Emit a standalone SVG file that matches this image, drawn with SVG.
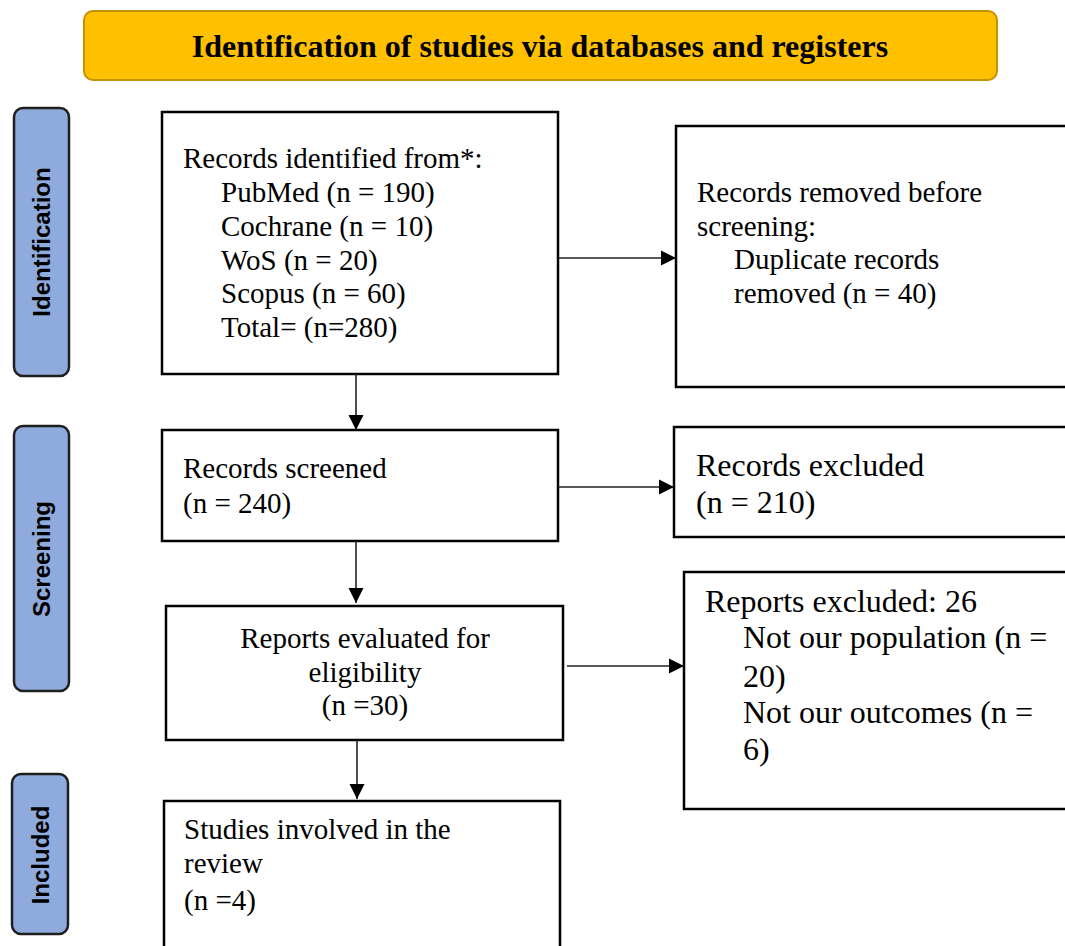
<svg xmlns="http://www.w3.org/2000/svg" width="1065" height="946" viewBox="0 0 1065 946">
<style>
.box{fill:#fff;stroke:#000;stroke-width:2.5}
.side{fill:#8FAADC;stroke:#1f1f1f;stroke-width:2.5}
.t{font-family:"Liberation Serif","Times New Roman",serif;font-size:29px;fill:#000}
.tb{font-family:"Liberation Serif","Times New Roman",serif;font-size:32px;fill:#000}
.s{font-family:"Liberation Sans",Arial,sans-serif;font-size:24px;font-weight:bold;fill:#000;text-anchor:middle}
.c{fill:none;stroke:#222;stroke-width:1.6}
</style>
<defs>
<marker id="ah" markerUnits="userSpaceOnUse" markerWidth="16" markerHeight="16" refX="15" refY="8" orient="auto">
<path d="M0,0.5 L15,8 L0,15.5 Z" fill="#000"/>
</marker>
</defs>
<g id="header">
<rect x="84" y="11" width="913" height="69" rx="9" fill="#FFC000" stroke="#C49200" stroke-width="2"/>
<text x="540" y="57" text-anchor="middle" style="font-family:'Liberation Serif','Times New Roman',serif;font-size:32px;font-weight:bold">Identification of studies via databases and registers</text>
</g>
<g id="label-identification">
<rect class="side" x="14" y="108" width="55" height="268" rx="9"/>
<text class="s" transform="translate(50,242) rotate(-90)">Identification</text>
</g>
<g id="label-screening">
<rect class="side" x="14" y="426" width="55" height="265" rx="9"/>
<text class="s" transform="translate(50,559) rotate(-90)">Screening</text>
</g>
<g id="label-included">
<rect class="side" x="12" y="774" width="56" height="160" rx="9"/>
<text class="s" transform="translate(49,855) rotate(-90)">Included</text>
</g>
<g id="records-identified">
<rect class="box" x="162" y="112" width="396" height="262"/>
<text class="t" x="183" y="168">Records identified from*:</text>
<text class="t" x="221" y="202">PubMed (n = 190)</text>
<text class="t" x="221" y="236">Cochrane (n = 10)</text>
<text class="t" x="221" y="270">WoS (n = 20)</text>
<text class="t" x="221" y="303">Scopus (n = 60)</text>
<text class="t" x="221" y="337">Total= (n=280)</text>
</g>
<g id="records-removed">
<rect class="box" x="676" y="126" width="400" height="261"/>
<text class="t" x="697" y="202">Records removed before</text>
<text class="t" x="697" y="236">screening:</text>
<text class="t" x="734" y="269">Duplicate records</text>
<text class="t" x="734" y="303">removed (n = 40)</text>
</g>
<g id="records-screened">
<rect class="box" x="162" y="430" width="396" height="111"/>
<text class="t" x="183" y="478">Records screened</text>
<text class="t" x="183" y="513">(n = 240)</text>
</g>
<g id="records-excluded">
<rect class="box" x="674" y="427" width="400" height="110"/>
<text class="tb" x="696" y="476">Records excluded</text>
<text class="tb" x="696" y="513">(n = 210)</text>
</g>
<g id="reports-evaluated">
<rect class="box" x="166" y="606" width="397" height="134"/>
<text class="t" x="365" y="648" text-anchor="middle">Reports evaluated for</text>
<text class="t" x="365" y="682" text-anchor="middle">eligibility</text>
<text class="t" x="365" y="715" text-anchor="middle">(n =30)</text>
</g>
<g id="reports-excluded">
<rect class="box" x="684" y="572" width="400" height="237"/>
<text class="tb" x="705" y="612">Reports excluded: 26</text>
<text class="tb" x="743" y="648">Not our population (n =</text>
<text class="tb" x="743" y="687">20)</text>
<text class="tb" x="743" y="723">Not our outcomes (n =</text>
<text class="tb" x="743" y="760">6)</text>
</g>
<g id="studies-included">
<rect class="box" x="164" y="801" width="396" height="160"/>
<text class="t" x="184" y="839">Studies involved in the</text>
<text class="t" x="184" y="873">review</text>
<text class="t" x="184" y="910">(n =4)</text>
</g>
<g id="connectors">
<line class="c" x1="558" y1="258" x2="676" y2="258" marker-end="url(#ah)"/>
<line class="c" x1="356" y1="374" x2="356" y2="430" marker-end="url(#ah)"/>
<line class="c" x1="558" y1="487" x2="674" y2="487" marker-end="url(#ah)"/>
<line class="c" x1="356" y1="541" x2="356" y2="603" marker-end="url(#ah)"/>
<line class="c" x1="567" y1="666" x2="684" y2="666" marker-end="url(#ah)"/>
<line class="c" x1="357" y1="740" x2="357" y2="799" marker-end="url(#ah)"/>
</g>
</svg>
